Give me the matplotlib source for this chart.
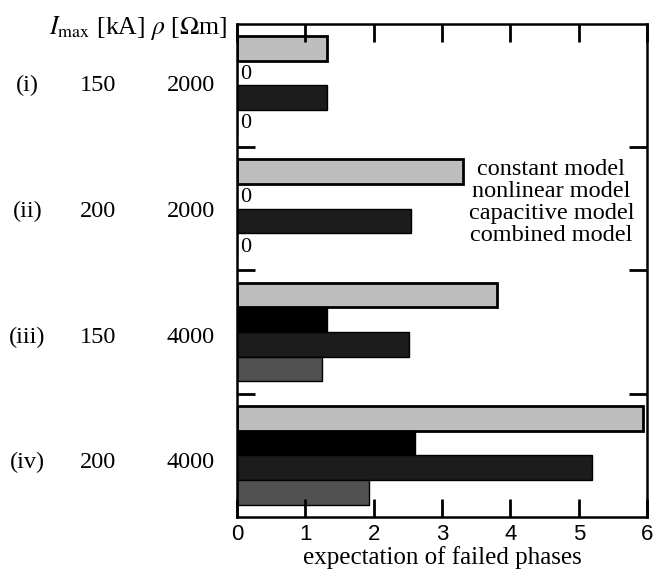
import numpy as np
import matplotlib
matplotlib.use("Agg")
import matplotlib.pyplot as plt
from matplotlib.transforms import blended_transform_factory

plt.rcParams['font.family'] = ['Liberation Serif', 'DejaVu Serif']
plt.rcParams['mathtext.fontset'] = 'stix'

# data
cases = ['(i)', '(ii)', '(iii)', '(iv)']
i_max = ['150', '200', '150', '200']
rho = ['2000', '2000', '4000', '4000']
models = ['constant model', 'nonlinear model', 'capacitive model', 'combined model']
constant = [1.32, 3.31, 3.81, 5.94]
nonlinear = [0.0, 0.0, 1.32, 2.60]
capacitive = [1.32, 2.54, 2.52, 5.20]
combined = [0.0, 0.0, 1.25, 1.93]
xticks = [0, 1, 2, 3, 4, 5, 6]

series = [constant, nonlinear, capacitive, combined]
colors = ['#bebebe', '#000000', '#1c1c1c', '#505050']

fig = plt.figure(figsize=(6.53, 5.81), dpi=100)
ax = fig.add_axes([0.363, 0.110, 0.628, 0.849])

h = 0.2
y0 = np.arange(len(cases))
for k, vals in enumerate(series):
    ys = y0 - 0.3 + k * h
    ax.barh(ys, vals, height=h, color=colors[k], edgecolor='black',
            linewidth=2.0 if k == 0 else 1.0)
    for y, v in zip(ys, vals):
        if v == 0:
            ax.text(0.04, y + 0.01, '0', ha='left', va='center', fontsize=16)

ax.set_xlim(0, 6)
ax.set_ylim(3.5, -0.5)
ax.set_xticks(xticks)
ax.set_xticklabels([str(t) for t in xticks], family='Liberation Sans', fontsize=16)
ax.set_yticks([0.5, 1.5, 2.5])
ax.set_yticklabels([])
ax.tick_params(axis='x', direction='in', top=True, bottom=True, length=13, width=2, pad=5)
ax.tick_params(axis='y', direction='in', left=True, right=True, length=13, width=2)
for s in ax.spines.values():
    s.set_linewidth(1.8)
ax.set_xlabel('expectation of failed phases', fontsize=18, labelpad=1)

# legend text in group (ii)
for k, m in enumerate(models):
    ax.text(4.6, 1 - 0.32 + k * 0.18, m, ha='center', va='center', fontsize=17.5)

# row labels
tr = blended_transform_factory(fig.transFigure, ax.transData)
for i in range(len(cases)):
    yy = i + 0.02 * i
    ax.text(0.042, yy, cases[i], transform=tr, ha='center', va='center', fontsize=17.5)
    ax.text(0.150, yy, i_max[i], transform=tr, ha='center', va='center', fontsize=17.5)
    ax.text(0.292, yy, rho[i], transform=tr, ha='center', va='center', fontsize=17.5)

fig.text(0.348, 0.952, r'$I_{\max}$ [kA] $\rho$ [$\Omega$m]', ha='right', va='center', fontsize=18.5)

fig.savefig('out.png', dpi=100)
